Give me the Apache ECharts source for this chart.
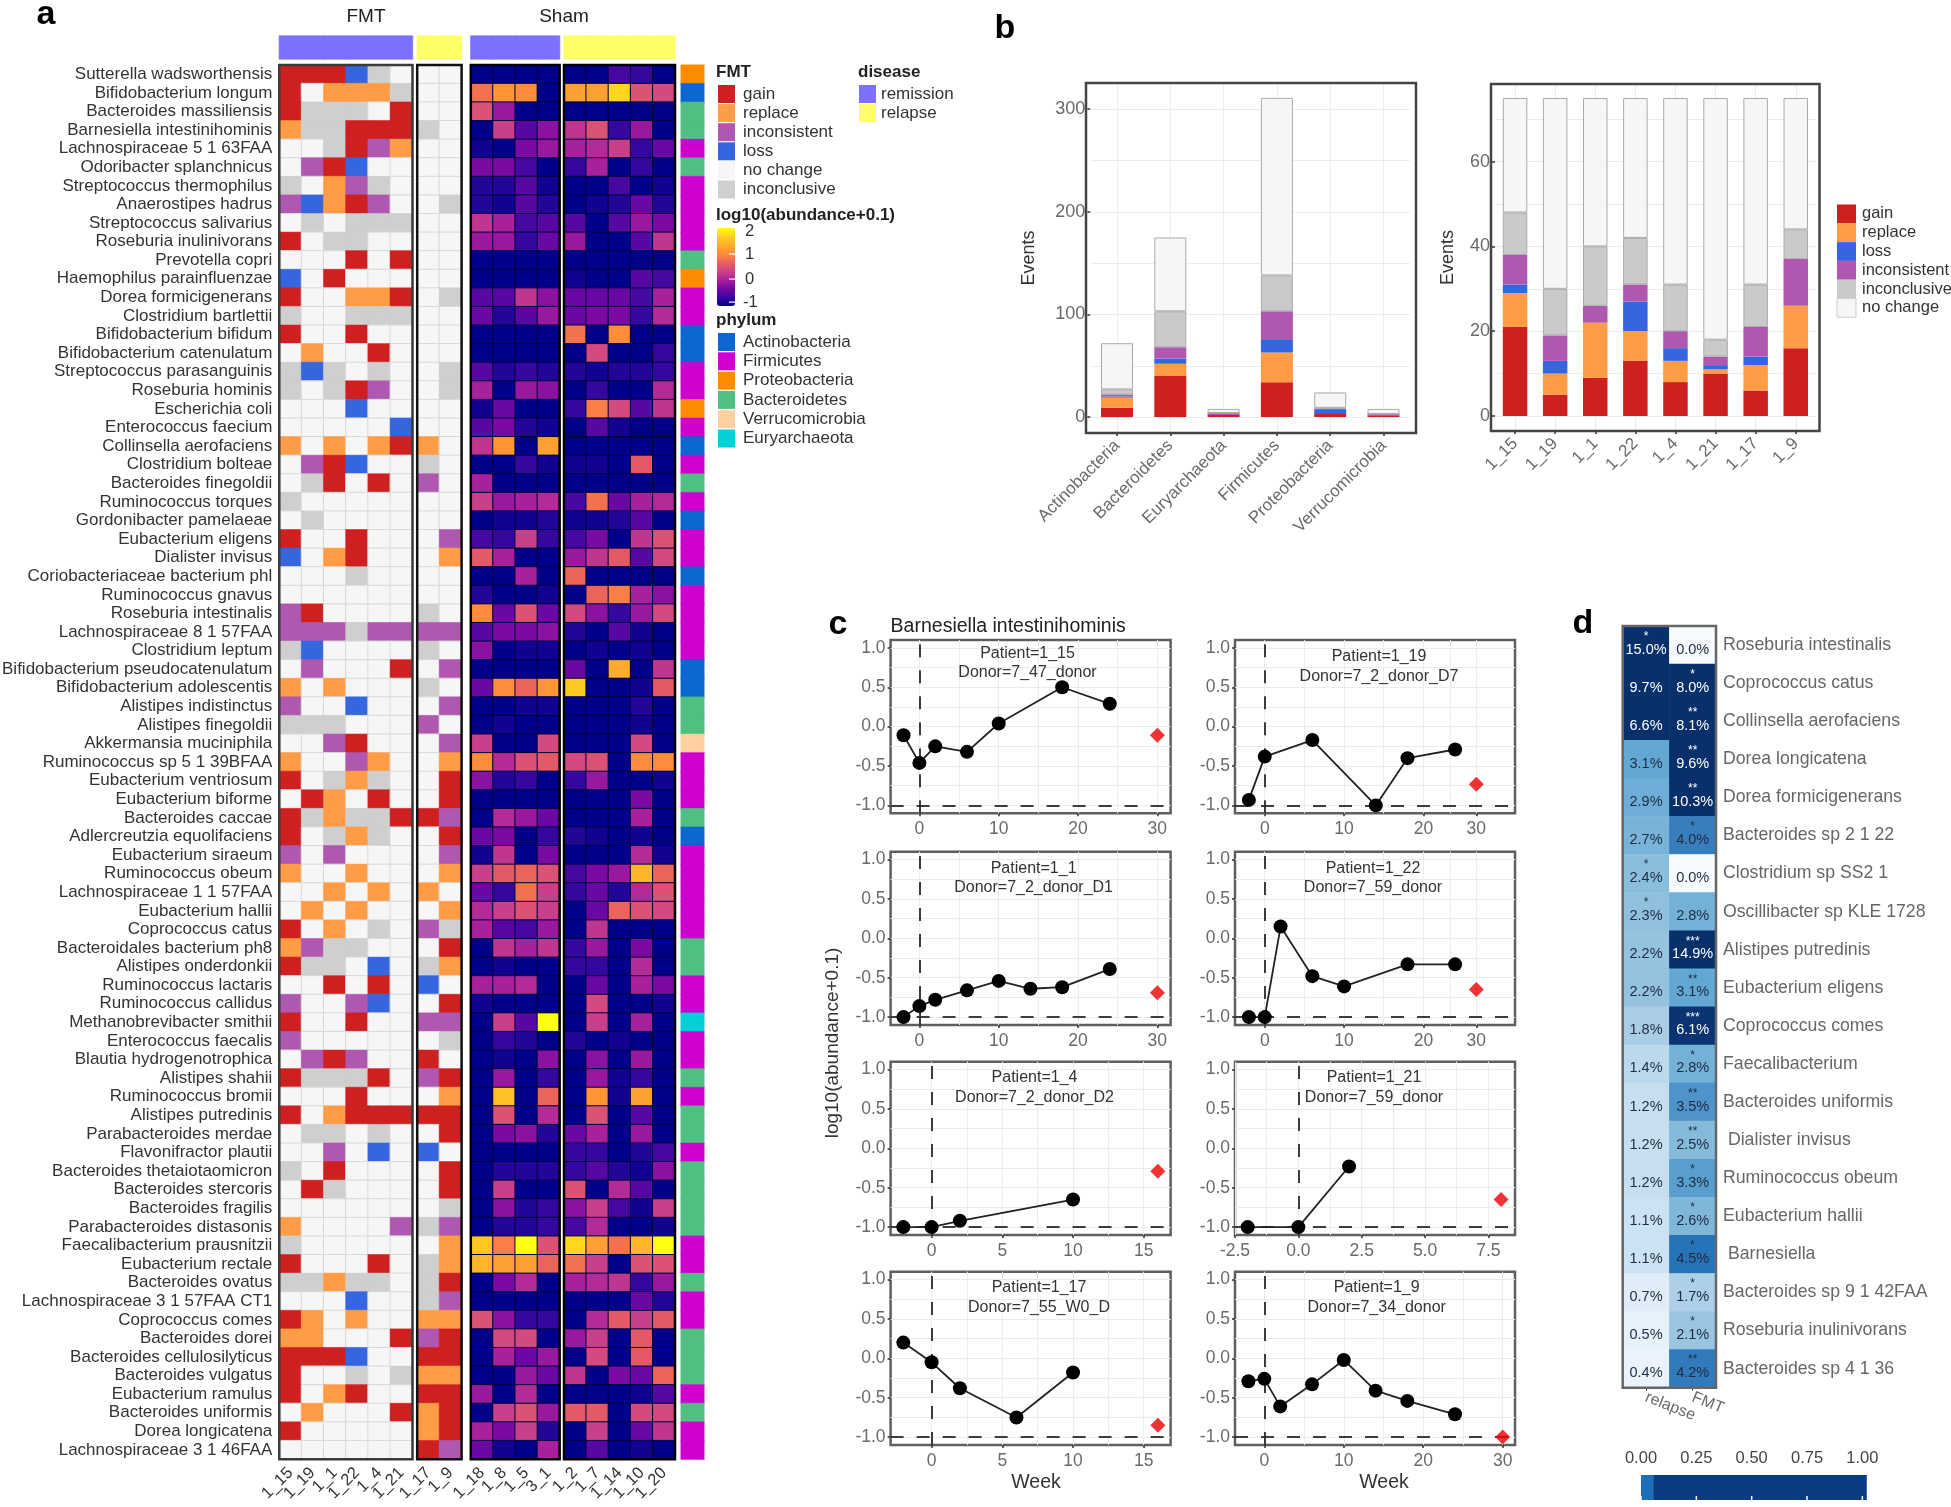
<!DOCTYPE html>
<html><head><meta charset="utf-8">
<style>html,body{margin:0;padding:0;background:#fff}#c{width:1951px;height:1507px}</style>
<script src="https://cdn.jsdelivr.net/npm/echarts@6/dist/echarts.min.js"></script>
</head><body><div id="c"></div>
<script>
// ---------- Panel a ----------
const speciesA = ["Sutterella wadsworthensis","Bifidobacterium longum","Bacteroides massiliensis","Barnesiella intestinihominis","Lachnospiraceae 5 1 63FAA","Odoribacter splanchnicus","Streptococcus thermophilus","Anaerostipes hadrus","Streptococcus salivarius","Roseburia inulinivorans","Prevotella copri","Haemophilus parainfluenzae","Dorea formicigenerans","Clostridium bartlettii","Bifidobacterium bifidum","Bifidobacterium catenulatum","Streptococcus parasanguinis","Roseburia hominis","Escherichia coli","Enterococcus faecium","Collinsella aerofaciens","Clostridium bolteae","Bacteroides finegoldii","Ruminococcus torques","Gordonibacter pamelaeae","Eubacterium eligens","Dialister invisus","Coriobacteriaceae bacterium phl","Ruminococcus gnavus","Roseburia intestinalis","Lachnospiraceae 8 1 57FAA","Clostridium leptum","Bifidobacterium pseudocatenulatum","Bifidobacterium adolescentis","Alistipes indistinctus","Alistipes finegoldii","Akkermansia muciniphila","Ruminococcus sp 5 1 39BFAA","Eubacterium ventriosum","Eubacterium biforme","Bacteroides caccae","Adlercreutzia equolifaciens","Eubacterium siraeum","Ruminococcus obeum","Lachnospiraceae 1 1 57FAA","Eubacterium hallii","Coprococcus catus","Bacteroidales bacterium ph8","Alistipes onderdonkii","Ruminococcus lactaris","Ruminococcus callidus","Methanobrevibacter smithii","Enterococcus faecalis","Blautia hydrogenotrophica","Alistipes shahii","Ruminococcus bromii","Alistipes putredinis","Parabacteroides merdae","Flavonifractor plautii","Bacteroides thetaiotaomicron","Bacteroides stercoris","Bacteroides fragilis","Parabacteroides distasonis","Faecalibacterium prausnitzii","Eubacterium rectale","Bacteroides ovatus","Lachnospiraceae 3 1 57FAA CT1","Coprococcus comes","Bacteroides dorei","Bacteroides cellulosilyticus","Bacteroides vulgatus","Eubacterium ramulus","Bacteroides uniformis","Dorea longicatena","Lachnospiraceae 3 1 46FAA"];
// one letter per row: P proteo, A actino, B bacteroidetes, F firmicutes, V verruco, E eury
const phylumCodes = "PABBFBFFFFBPFFAAFFPFAFBFAFFAFFFFAABBVFFFBAFFFFFBBFFEFFBFBBFBBBBFFBFFBBBFBFF";
const fmtPatientsRemission = ["1_15","1_19","1_1","1_22","1_4","1_21"];
const fmtPatientsRelapse = ["1_17","1_9"];
const shamRemission = ["1_18","1_8","1_5","3_1"];
const shamRelapse = ["1_2","1_7","1_14","1_10","1_20"];
// g gain, r replace, i inconsistent, l loss, n no change, c inconclusive
const fmtCalls = ["ggglcn|nn","gnrrrc|nn","gcccng|nn","rccggg|cn","nncgir|nn","niglnn|nn","cnricn|nn","ilrgin|nc","ncnccc|nn","gnccnn|nn","nnngng|nn","lngnnn|nn","gnnrrg|nc","cnnccc|nn","gnngnn|nn","nrnngn|nn","clcncn|nc","cncgin|nc","nnnlnn|nn","nnnnnl|nn","rnrnrg|rn","niglnn|cn","ncgngn|in","cnnnnn|nn","ncnnnn|nn","gnngnn|ni","lnrgnn|nr","nnncnn|nn","nnnnnn|nn","ignnnn|cn","iiicii|ii","clnnnn|cn","ninnng|ni","rnrnnn|cn","innlnn|ni","cccnnn|in","nnignn|ni","rnnirn|nr","gncrcn|ng","ngrngn|ng","gcrccg|gi","gncrcn|ng","ininnn|ni","rnnrnn|nr","nnrnrn|rn","nrnrnn|nr","gnrncn|ic","riccnn|ng","gccnln|cr","nngngn|ln","inniln|ng","gnngnn|ii","innnnn|nc","niginn|gn","gcccgn|ig","nnngnn|nr","gnrggg|gg","nccncn|ng","nninln|ln","cngnnn|ng","ngcnnn|ng","nnnnnn|nc","rnnnni|ci","cnnnnn|nr","gnnngn|cr","ccrccn|cg","nnnlnn|ci","grnrnn|rr","rrnnng|ig","ggglnn|gg","gnncnc|rr","gnrgnn|gg","nrnnng|rg","gnnnnn|rg","nnnnnn|gi"];
const shamValues = [
[-1,-1,-1,-1,-1,-1,-.6,-.7,-1],[.8,1.1,1,-1,1.2,1.2,1.7,.5,.4],[.5,-.1,-1,-1,-1,-1,-1,-1,-1],[-1,.3,-.5,-.2,.2,.5,-.7,-.1,-1],[-.9,-1,-.3,-.1,0,.1,.3,-.7,-.4],
[-.3,-.3,-.6,-1,-.7,0,-1,-.7,-1],[-.8,-.8,-.5,-.9,-1,-1,-.6,-1,-.9],[-.8,-.9,-.5,-.8,-1,-.9,-.8,-.4,-.8],[.2,0,-.6,-.5,-.5,-1,-.5,-.1,-.3],[-.1,-.1,-.7,-.4,-.1,-1,-1,-.5,.2],
[-1,-1,-1,-1,-1,-1,-1,-1,-1],[-1,-1,-1,-1,-.9,-1,-1,-.5,-.6],[-.5,-.5,.2,-.2,-.4,-.4,-.4,-.6,0],[-.4,-.8,-.5,-.1,-.4,-.3,-.3,-.7,.1],[-1,-1,-1,-1,.8,-1,1,-1,-1],
[-1,-1,-1,-1,-1,.4,-1,-1,-.7],[-.5,-.8,-.7,-.8,-.8,-.9,-.8,-.8,-.7],[0,-1,-.1,-.2,-1,-.7,-1,-1,.1],[-.9,-.4,-1,-1,-.7,.9,.4,-.5,.2],[-.5,-.3,-.8,-.9,-1,-.5,-.9,-1,-1],
[.2,1.1,-1,1.2,-1,-1,-1,-1,-1],[-1,-1,-.7,-.9,-.9,-.9,-1,.6,-1],[0,-1,-1,-1,-1,-1,-1,-1,-1],[.3,-.1,0,.1,-.6,.8,-.4,0,.1],[-1,-.9,-.9,-.8,-.9,-.9,-.8,-.5,-1],
[-.6,-.7,.3,-.7,-.6,-.3,-1,.2,.5],[.6,0,-1,-1,-.1,.2,.6,-.5,.4],[-1,-1,0,-1,.7,-1,-1,-1,-1],[-.8,-1,-1,-.9,-1,.7,.9,0,-.2],[1,-.4,.5,-.4,.4,-.2,-.7,-.1,.4],
[-.5,-.3,-.3,-.2,-.8,-1,-.5,-.9,-1],[-.2,-1,-.9,-.9,-1,-.9,-1,-.9,-1],[-1,-1,-1,-1,-.4,-1,1.3,-1,.2],[-.4,1,.7,1.1,1.6,-1,-1,-.9,.6],[-1,-1,-.9,-.9,-1,-1,-1,-.8,-1],
[-1,-.9,-1,-1,-1,-1,-1,-.9,-1],[.3,-1,-1,.4,-1,-1,-1,.4,-1],[1,.1,.5,.6,.4,.5,-1,1,1],[-.2,-.8,-.7,-1,-.7,-.1,-1,-1,-.9],[-1,-1,-1,-1,-1,-1,-1,-.3,-1],
[-1,.1,-.1,-.4,-1,-1,-1,0,-1],[-.4,-.3,-1,-.7,-.8,-.9,-1,-.9,-1],[-.9,.2,-1,-.3,-1,-1,-1,.1,-.9],[.3,.6,.7,.5,-.6,-.3,-.1,1.4,.7],[-.4,-.7,.8,.3,-.7,-.4,-.8,.1,.5],
[.1,.3,.5,.3,-1,-.4,.7,.5,.4],[0,-.5,-.6,-.1,-1,.2,-1,-1,-1],[-1,.2,0,.2,-.7,-.1,-1,-.3,-1],[-1,-.9,-1,-1,-.7,-.7,-1,.1,-1],[0,0,.1,-1,-1,-.4,-1,0,-.3],
[-.9,-1,-1,-1,-1,.4,-1,-1,-.9],[-1,.3,-.5,2,-1,.3,-1,0,-1],[-1,-.7,-.8,-1,-.8,-1,-.9,-1,-1],[-1,-.9,-1,-.2,-1,-.2,-1,-.1,-1],[-1,-.1,-1,-.7,-1,-.1,-.9,-.7,-1],
[-1,1.5,-1,.7,-1,1.1,-.9,1.2,-1],[-1,.5,-1,.1,-1,.5,-1,-.5,-1],[-1,-.3,-.2,-.8,-.4,0,-1,-.1,-1],[-1,-1,-1,-1,-.7,-.7,-1,-.8,-.6],[-1,-.8,-.8,-.8,-.7,-.5,-.8,-.9,-.2],
[-1,.3,-1,-1,.5,-1,.1,-.5,-1],[-1,-.2,-.8,-.7,-.2,.3,-.6,-.9,.3],[-1,-.8,-.8,-.7,-.6,.1,-1,-1,-.9],[1.6,.9,2,.5,1.7,1.2,.8,1.4,2],[1.4,1.2,1.2,.7,.8,.3,-1,.5,.5],
[-1,-.3,.1,-1,0,.1,.2,-.7,-.1],[-1,-1,-1,-1,-1,-1,-1,-.4,-.8],[.5,-.2,-.7,-.7,-1,.1,.6,.3,.6],[-1,.4,.4,-1,-.1,.3,-1,.6,-1],[-1,0,-.4,-.1,-1,.4,-1,.6,-1],
[-1,-1,-.1,-.4,.2,-1,-.3,-.4,.7],[-.1,-1,.1,-1,-1,-1,-1,-.9,-.5],[-1,.3,.5,-.1,.6,.6,-1,.4,.4],[0,-.3,.3,-.8,-1,.3,-1,-.4,.2],[-.4,-.9,-1,0,-1,-.5,-1,-.9,-1]];

// ---------- Panel b ----------
const eventClasses = ["gain","replace","loss","inconsistent","inconclusive","no change"];
const phylumCats = ["Actinobacteria","Bacteroidetes","Euryarchaeota","Firmicutes","Proteobacteria","Verrucomicrobia"];
const phylumGain = [9,40,2,34,3,1];
const phylumReplace = [10,12,0,29,0,0];
const phylumLoss = [1,5,0,12,4,0];
const phylumInconsistent = [2,11,2,28,1,2];
const phylumInconclusive = [5,35,0,35,1,0];
const phylumNoChange = [45,72,4,173,15,5];
const patientCats = ["1_15","1_19","1_1","1_22","1_4","1_21","1_17","1_9"];
const patientGain = [21,5,9,13,8,10,6,16];
const patientReplace = [8,5,13,7,5,1,6,10];
const patientLoss = [2,3,0,7,3,1,2,0];
const patientInconsistent = [7,6,4,4,4,2,7,11];
const patientInconclusive = [10,11,14,11,11,4,10,7];
const patientNoChange = [27,45,35,33,44,57,44,31];

// ---------- Panel c ----------
const w1_15=[-2,0,2,6,10,18,24], v1_15=[-.11,-.46,-.25,-.32,.04,.5,.29];
const w1_19=[-2,0,6,14,18,24], v1_19=[-.93,-.38,-.17,-1,-.4,-.29];
const w1_1=[-2,0,2,6,10,14,18,24], v1_1=[-1,-.86,-.78,-.66,-.54,-.64,-.62,-.39];
const w1_22=[-2,0,2,6,10,18,24], v1_22=[-1,-1,.15,-.48,-.61,-.33,-.33];
const w1_4=[-2,0,2,10], v1_4=[-1,-1,-.92,-.65];
const w1_21=[-2,0,2], v1_21=[-1,-1,-.23];
const w1_17=[-2,0,2,6,10], v1_17=[.2,-.05,-.38,-.75,-.18];
const w1_9=[-2,0,2,6,10,14,18,24], v1_9=[-.29,-.26,-.61,-.33,-.02,-.41,-.54,-.71];
const donorWeeks=[30,26.67,30,26.67,16,8,16,30];
const donorValues=[-.11,-.73,-.69,-.65,-.29,-.65,-.85,-1];
const patientTitles=["Patient=1_15","Patient=1_19","Patient=1_1","Patient=1_22","Patient=1_4","Patient=1_21","Patient=1_17","Patient=1_9"];
const donorTitles=["Donor=7_47_donor","Donor=7_2_donor_D7","Donor=7_2_donor_D1","Donor=7_59_donor","Donor=7_2_donor_D2","Donor=7_59_donor","Donor=7_55_W0_D","Donor=7_34_donor"];

// ---------- Panel d ----------
const speciesD=["Roseburia intestinalis","Coprococcus catus","Collinsella aerofaciens","Dorea longicatena","Dorea formicigenerans","Bacteroides sp 2 1 22","Clostridium sp SS2 1","Oscillibacter sp KLE 1728","Alistipes putredinis","Eubacterium eligens","Coprococcus comes","Faecalibacterium","Bacteroides uniformis"," Dialister invisus","Ruminococcus obeum","Eubacterium hallii"," Barnesiella","Bacteroides sp 9 1 42FAA","Roseburia inulinivorans","Bacteroides sp 4 1 36"];
const relapsePct=[15.0,9.7,6.6,3.1,2.9,2.7,2.4,2.3,2.2,2.2,1.8,1.4,1.2,1.2,1.2,1.1,1.1,0.7,0.5,0.4];
const fmtPct=[0.0,8.0,8.1,9.6,10.3,4.0,0.0,2.8,14.9,3.1,6.1,2.8,3.5,2.5,3.3,2.6,4.5,1.7,2.1,4.2];
const relapseStars=["*","","","","","","*","*","","","","","","","","","","","",""];
const fmtStars=["","*","**","**","**","*","","","***","**","***","*","**","**","*","*","*","*","*","**"];
const doseTicks=[0,0.25,0.5,0.75,1];
const doseSegments=[0.055,0.965];

// ---------- styles ----------
const FONT="Liberation Sans";
const fmtColors={g:"#CE2020",r:"#FF9C45",i:"#B058B0",l:"#3566E0",n:"#F6F6F6",c:"#CFCFCF"};
const eventColors=["#CE2020","#FF9C45","#3566E0","#B058B0","#CACACA","#F6F6F6"];
const phylumColors={A:"#0B68D2",F:"#D000D0",P:"#FF8C00",B:"#50C082",V:"#FFD0A0",E:"#00D0D8"};
const heatPalette=["#00008B","#3A08A0","#7608A4","#A8209C","#CC4488","#E86060","#FF8C3A","#FFAE2C","#FFD020","#FFFF10"];
const bluePalette=["#F7FBFF","#DEEBF7","#B4D3E9","#8FBFDD","#62A8D3","#3C80BF","#2171B5","#0E4F97","#08306B"];
const tickGray="#6a6a6a";

const grids=[],xAxes=[],yAxes=[],series=[],graphics=[];
function addGrid(r,xa,ya){
  const i=grids.length;
  grids.push({left:r[0],top:r[1],width:r[2],height:r[3],outerBoundsMode:"none",containLabel:false,show:!!r[4],borderColor:r[4]||"#000",borderWidth:r[4]?2.5:0,backgroundColor:"transparent"});
  xAxes.push(Object.assign({gridIndex:i},xa)); yAxes.push(Object.assign({gridIndex:i},ya)); return i;
}
function text(x,y,s,o){o=o||{};graphics.push({type:"text",x:x,y:y,rotation:o.rot||0,z:120,silent:true,style:{text:s,fill:o.color||"#222",font:(o.bold?"bold ":"")+(o.size||16)+"px '"+FONT+"'",textAlign:o.align||"left",textVerticalAlign:"middle"}});}
function rect(x,y,w,h,fill,stroke,lw){graphics.push({type:"rect",shape:{x:x,y:y,width:w,height:h},z:110,silent:true,style:{fill:fill||"none",stroke:stroke||null,lineWidth:lw||0}});}

const hidden={show:false};
function catX(d,show){return {type:"category",data:d,axisLine:hidden,axisTick:hidden,splitLine:hidden,splitArea:hidden,
  axisLabel:show?{show:true,rotate:45,interval:0,fontSize:16.5,color:"#333",fontFamily:FONT,margin:11,hideOverlap:false}:hidden};}
function catY(d,show){return {type:"category",data:d,inverse:true,axisLine:hidden,axisTick:hidden,splitLine:hidden,splitArea:hidden,
  axisLabel:show?{show:true,interval:0,fontSize:17,color:"#333",fontFamily:FONT,margin:7,hideOverlap:false}:hidden};}

const ROW_TOP=65, ROW_H=18.59, COL=22.2, NR=speciesA.length;
const H=NR*ROW_H;
const shamSeriesIdx=[];
function callBlock(x,cats,colOffset,show){
  const g=addGrid([x,ROW_TOP,cats.length*COL,H],catX(cats,true),catY(speciesA,show));
  const data=[];
  fmtCalls.forEach((row,ry)=>{const s=row.replace("|","");cats.forEach((c,cx)=>{const k=s[cx+colOffset];
    data.push({value:[cx,ry,1],itemStyle:{color:fmtColors[k],borderColor:k==="n"?"#D9D9D9":fmtColors[k],borderWidth:k==="n"?1:0.5}});});});
  series.push({type:"heatmap",xAxisIndex:g,yAxisIndex:g,data:data,progressive:0,z:2});
}
function shamBlock(x,cats,colOffset){
  const g=addGrid([x,ROW_TOP,cats.length*COL,H],catX(cats,true),catY(speciesA,false));
  const data=[];
  shamValues.forEach((row,ry)=>cats.forEach((c,cx)=>data.push([cx,ry,row[cx+colOffset]])));
  shamSeriesIdx.push(series.length);
  series.push({type:"heatmap",xAxisIndex:g,yAxisIndex:g,data:data,progressive:0,z:2,itemStyle:{borderColor:"#00003a",borderWidth:1}});
}
callBlock(279.3,fmtPatientsRemission,0,true);
callBlock(417.2,fmtPatientsRelapse,6,false);
shamBlock(470.8,shamRemission,0);
shamBlock(564,shamRelapse,4);
// frames
rect(279.3,ROW_TOP,133.2,H,null,"#3a3a3a",2.5);
rect(417.2,ROW_TOP,44.4,H,null,"#111",2.5);
rect(470.8,ROW_TOP,88.8,H,null,"#000",2.5);
rect(564,ROW_TOP,111,H,null,"#000",2.5);
// disease annotation bars
const diseaseBars=[[279.3,6,"remission"],[417.2,2,"relapse"],[470.8,4,"remission"],[564,5,"relapse"]];
const diseaseColors={remission:"#7B70FF",relapse:"#FFFF66"};
diseaseBars.forEach(b=>{
  const cats=Array.from({length:b[1]},(_,i)=>i);
  const g=addGrid([b[0],36,b[1]*COL,23],catX(cats,false),catY([b[2]],false));
  series.push({type:"heatmap",xAxisIndex:g,yAxisIndex:g,progressive:0,data:cats.map(i=>({value:[i,0,1],itemStyle:{color:diseaseColors[b[2]],borderColor:diseaseColors[b[2]],borderWidth:0.6}}))});
});
// phylum strip
{const g=addGrid([681,ROW_TOP,23,H],catX(["phylum"],false),catY(speciesA,false));
 series.push({type:"heatmap",xAxisIndex:g,yAxisIndex:g,progressive:0,data:speciesA.map((s,i)=>({value:[0,i,1],itemStyle:{color:phylumColors[phylumCodes[i]],borderColor:phylumColors[phylumCodes[i]],borderWidth:0.4}}))});}
text(366,17,"FMT",{size:19,align:"center"}); text(564,17,"Sham",{size:19,align:"center"});

// legends a
text(716,72,"FMT",{bold:true,size:17});
const fmtLegend=[["gain","g"],["replace","r"],["inconsistent","i"],["loss","l"],["no change","n"],["inconclusive","c"]];
fmtLegend.forEach((e,i)=>{const y=85+i*19.1;rect(718,y,17,18,fmtColors[e[1]]);text(743,y+9,e[0],{size:17,color:"#333"});});
text(858,72,"disease",{bold:true,size:17});
[["remission","remission"],["relapse","relapse"]].forEach((e,i)=>{const y=85+i*19.1;rect(859,y,17,18,diseaseColors[e[1]]);text(881,y+9,e[0],{size:17,color:"#333"});});
text(716,215,"log10(abundance+0.1)",{bold:true,size:17});
[["2",231],["1",254],["0",279],["-1",302]].forEach(e=>text(e[0]==="-1"?743:745,e[1],e[0],{size:16.5,color:"#333"}));
[[254],[279],[302]].forEach(e=>rect(729,e[0]-0.5,6,1.2,"#fff"));
text(716,320,"phylum",{bold:true,size:17});
[["Actinobacteria","A"],["Firmicutes","F"],["Proteobacteria","P"],["Bacteroidetes","B"],["Verrucomicrobia","V"],["Euryarchaeota","E"]].forEach((e,i)=>{
  const y=333+i*19.3;rect(718,y,17,18,phylumColors[e[1]]);text(743,y+9,e[0],{size:17,color:"#333"});});

// ---------- helper for gridlines ----------
function guideSeries(g,xs,ys,dash){
  const data=[];
  xs.forEach(v=>data.push({xAxis:v,lineStyle:{color:"#ececec",width:1,type:"solid"}}));
  ys.forEach(v=>data.push({yAxis:v,lineStyle:{color:"#ececec",width:1,type:"solid"}}));
  (dash||[]).forEach(d=>data.push(Object.assign({lineStyle:{color:"#2a2a2a",width:1.8,type:[13,13]}},d)));
  series.push({type:"line",xAxisIndex:g,yAxisIndex:g,data:[],z:1,silent:true,markLine:{silent:true,symbol:"none",label:{show:false},animation:false,data:data,z:1}});
}
function valAxis(min,max,ticks,fmt,size,margin,extra){return Object.assign({type:"value",min:min,max:max,splitLine:hidden,minorSplitLine:hidden,axisLine:{show:false,onZero:false},
  axisTick:{show:true,customValues:ticks,length:3,lineStyle:{color:"#333",width:1.5}},
  axisLabel:{show:true,customValues:ticks,formatter:fmt,color:tickGray,fontSize:size,fontFamily:FONT,margin:margin,hideOverlap:false,showMinLabel:true,showMaxLabel:true}},extra||{});}

// ---------- Panel b ----------
function stackPanel(frame,inner,cats,vals,ymin,ymax,yticks,ylines,barW,nameGap){
  const xa={type:"category",data:cats,axisLine:{show:false,onZero:false},splitLine:hidden,
    axisTick:{show:true,alignWithLabel:true,length:3,lineStyle:{color:"#333",width:1.5}},
    axisLabel:{show:true,rotate:45,interval:0,color:tickGray,fontSize:17,fontFamily:FONT,margin:10,hideOverlap:false}};
  const ya=valAxis(ymin,ymax,yticks,v=>String(v),18,5,{name:"Events",nameLocation:"middle",nameGap:nameGap,nameRotate:90,nameTextStyle:{fontSize:18,color:"#333",fontFamily:FONT}});
  const g=addGrid([inner[0],frame[1],inner[1],frame[3]],xa,ya);
  guideSeries(g,cats.map((c,i)=>i),ylines);
  vals.forEach((arr,k)=>{
    series.push({type:"bar",name:eventClasses[k],xAxisIndex:g,yAxisIndex:g,stack:"ev"+g,barWidth:barW,z:3,data:arr,
      itemStyle:{color:eventColors[k],borderColor:k>=4?"#aaa":eventColors[k],borderWidth:k>=4?1:0}});
  });
  rect(frame[0],frame[1],frame[2],frame[3],null,"#444",2.5);
}
stackPanel([1086,83,330,350],[1090.35,319.8],phylumCats,[phylumGain,phylumReplace,phylumLoss,phylumInconsistent,phylumInconclusive,phylumNoChange],-15.5,325.5,[0,100,200,300],[0,50,100,150,200,250,300],32,52);
stackPanel([1491,84,328.5,347],[1495,320.8],patientCats,[patientGain,patientReplace,patientLoss,patientInconsistent,patientInconclusive,patientNoChange],-3.54,78.3,[0,20,40,60],[0,10,20,30,40,50,60,70],24.5,38);
eventClasses.forEach((n,i)=>{const y=204.5+i*18.8;rect(1837,y,19,18.8,eventColors[i],i===5?"#ccc":null,i===5?1:0);text(1862,y+9.4,n,{size:16.5,color:"#333"});});

// ---------- Panel c ----------
const panelsC=[
 {w:w1_15,v:v1_15,x:890.6,y:640,xr:[-3.63,31.67],t:[0,10,20,30],l:["0","10","20","30"],tx:1027.5,ty:[654,673]},
 {w:w1_19,v:v1_19,x:1235,y:640,xr:[-3.75,31.55],t:[0,10,20,26.67],l:["0","10","20","30"],tx:1379,ty:[657,677]},
 {w:w1_1,v:v1_1,x:890.6,y:851.7,xr:[-3.63,31.67],t:[0,10,20,30],l:["0","10","20","30"],tx:1033.6,ty:[868.7,888]},
 {w:w1_22,v:v1_22,x:1235,y:851.7,xr:[-3.75,31.55],t:[0,10,20,26.67],l:["0","10","20","30"],tx:1373,ty:[868.7,888]},
 {w:w1_4,v:v1_4,x:890.6,y:1061.7,xr:[-2.9,16.9],t:[0,5,10,15],l:["0","5","10","15"],tx:1034.5,ty:[1078,1098]},
 {w:w1_21,v:v1_21,x:1235,y:1061.7,xr:[-2.5,8.55],t:[-2.5,0,2.5,5,7.5],l:["-2.5","0.0","2.5","5.0","7.5"],tx:1374,ty:[1078,1098]},
 {w:w1_17,v:v1_17,x:890.6,y:1271.7,xr:[-2.9,16.9],t:[0,5,10,15],l:["0","5","10","15"],tx:1039,ty:[1288,1308]},
 {w:w1_9,v:v1_9,x:1235,y:1271.7,xr:[-3.69,31.55],t:[0,10,20,30],l:["0","10","20","30"],tx:1376.7,ty:[1288,1308]}];
panelsC.forEach((p,i)=>{
  const xa=valAxis(p.xr[0],p.xr[1],p.t,v=>p.l[p.t.indexOf(v)],17.5,7);
  const ya=valAxis(-1.1,1.1,[-1,-.5,0,.5,1],v=>v.toFixed(1),17.5,5);
  const g=addGrid([p.x,p.y,280,173.3,"#5f5f5f"],xa,ya);
  const xl=[];for(let k=0;k<p.t.length;k++){xl.push(p.t[k]);if(k<p.t.length-1)xl.push((p.t[k]+p.t[k+1])/2);}
  guideSeries(g,xl,[-1,-.75,-.5,-.25,0,.25,.5,.75,1],[{xAxis:0},{yAxis:-1}]);
  series.push({type:"line",xAxisIndex:g,yAxisIndex:g,z:4,data:p.w.map((w,k)=>[w,p.v[k]]),symbol:"circle",symbolSize:14,itemStyle:{color:"#000"},lineStyle:{color:"#222",width:1.8}});
  series.push({type:"scatter",xAxisIndex:g,yAxisIndex:g,z:5,data:[[donorWeeks[i],donorValues[i]]],symbol:"diamond",symbolSize:15,itemStyle:{color:"#F00000"}});
  text(p.tx,p.ty[0],patientTitles[i],{size:16,align:"center",color:"#333"});
  text(p.tx,p.ty[1],donorTitles[i],{size:16,align:"center",color:"#333"});
});
text(890.6,627,"Barnesiella intestinihominis",{size:19.5,color:"#222"});
text(833,1043,"log10(abundance+0.1)",{size:19,align:"center",color:"#333",rot:Math.PI/2});
text(1036,1483,"Week",{size:19.5,align:"center",color:"#333"});
text(1384,1483,"Week",{size:19.5,align:"center",color:"#333"});

// ---------- Panel d ----------
{
  const xa=catX(["relapse","FMT"],true);
  xa.axisLabel=Object.assign(xa.axisLabel,{rotate:-22,color:tickGray,fontSize:16,margin:9});
  xa.axisTick={show:true,length:3,alignWithLabel:true,lineStyle:{color:"#333"}};
  const ya=catY(speciesD,true);
  ya.position="right";
  ya.axisLabel=Object.assign(ya.axisLabel,{color:"#666",fontSize:17.7,margin:7,align:"left"});
  const g=addGrid([1622.7,626,93.3,761.7],xa,ya);
  const data=[];
  speciesD.forEach((s,i)=>{
    [[relapsePct,relapseStars],[fmtPct,fmtStars]].forEach((c,j)=>{
      const v=c[0][i];
      data.push({value:[j,i,v,c[1][i]],label:{color:v>=6?"#fff":"#1c2c44"}});
    });
  });
  series.push({type:"heatmap",xAxisIndex:g,yAxisIndex:g,progressive:0,data:data,z:2,
    label:{show:true,fontFamily:FONT,
      formatter:p=>"{s|"+(p.value[3]||" ")+"}\n{p|"+p.value[2].toFixed(1)+"%}",
      rich:{s:{fontSize:12,lineHeight:9,fontFamily:FONT,align:"center"},p:{fontSize:14.5,lineHeight:17,fontFamily:FONT,align:"center"}}}});
  var dSeriesIdx=series.length-1;
  rect(1622.7,626,93.3,761.7,null,"#666",2.5);
}
// dose colour bar
{
  const top={type:"value",min:0,max:1.03,position:"top",splitLine:hidden,axisLine:hidden,
    axisTick:{show:true,inside:true,length:4,customValues:doseTicks,lineStyle:{color:"#fff",width:1.5}},
    axisLabel:{show:true,customValues:doseTicks,inside:false,formatter:v=>v.toFixed(2),fontSize:16.5,color:"#444",fontFamily:FONT,margin:8,hideOverlap:false}};
  const g=addGrid([1641,1475,228,25],top,{type:"category",data:["x"],axisLine:hidden,axisTick:hidden,axisLabel:hidden});
  doseSegments.forEach((v,i)=>series.push({type:"bar",xAxisIndex:g,yAxisIndex:g,stack:"dose",barWidth:"100%",data:[v],z:2,itemStyle:{color:i?"#0B3B80":"#1E6FB8"}}));
  doseTicks.forEach(v=>rect(1641+v*228/1.03-0.75,1496,1.5,4,"#fff"));
}

[["a",46,15],["b",1005,29],["c",838,625],["d",1583,624]].forEach(e=>text(e[1],e[2],e[0],{bold:true,size:34,color:"#000",align:"center"}));
const chart=echarts.init(document.getElementById("c"),null,{renderer:"canvas",width:1951,height:1507});
chart.setOption({
  animation:false,
  backgroundColor:"#fff",
  textStyle:{fontFamily:FONT},
  grid:grids,xAxis:xAxes,yAxis:yAxes,
  visualMap:[
    {type:"continuous",seriesIndex:shamSeriesIdx,dimension:2,min:-1,max:2,inRange:{color:heatPalette},left:717,top:228,itemWidth:18,itemHeight:78,calculable:false,showLabel:false,borderWidth:0,textStyle:{color:"transparent",fontSize:1},padding:0,realtime:false,silent:true,handleStyle:{opacity:0},indicatorStyle:{opacity:0}},
    {type:"continuous",seriesIndex:[dSeriesIdx],dimension:2,min:0,max:6.2,inRange:{color:bluePalette},show:false}
  ],
  graphic:{elements:graphics},
  series:series
});
</script></body></html>
